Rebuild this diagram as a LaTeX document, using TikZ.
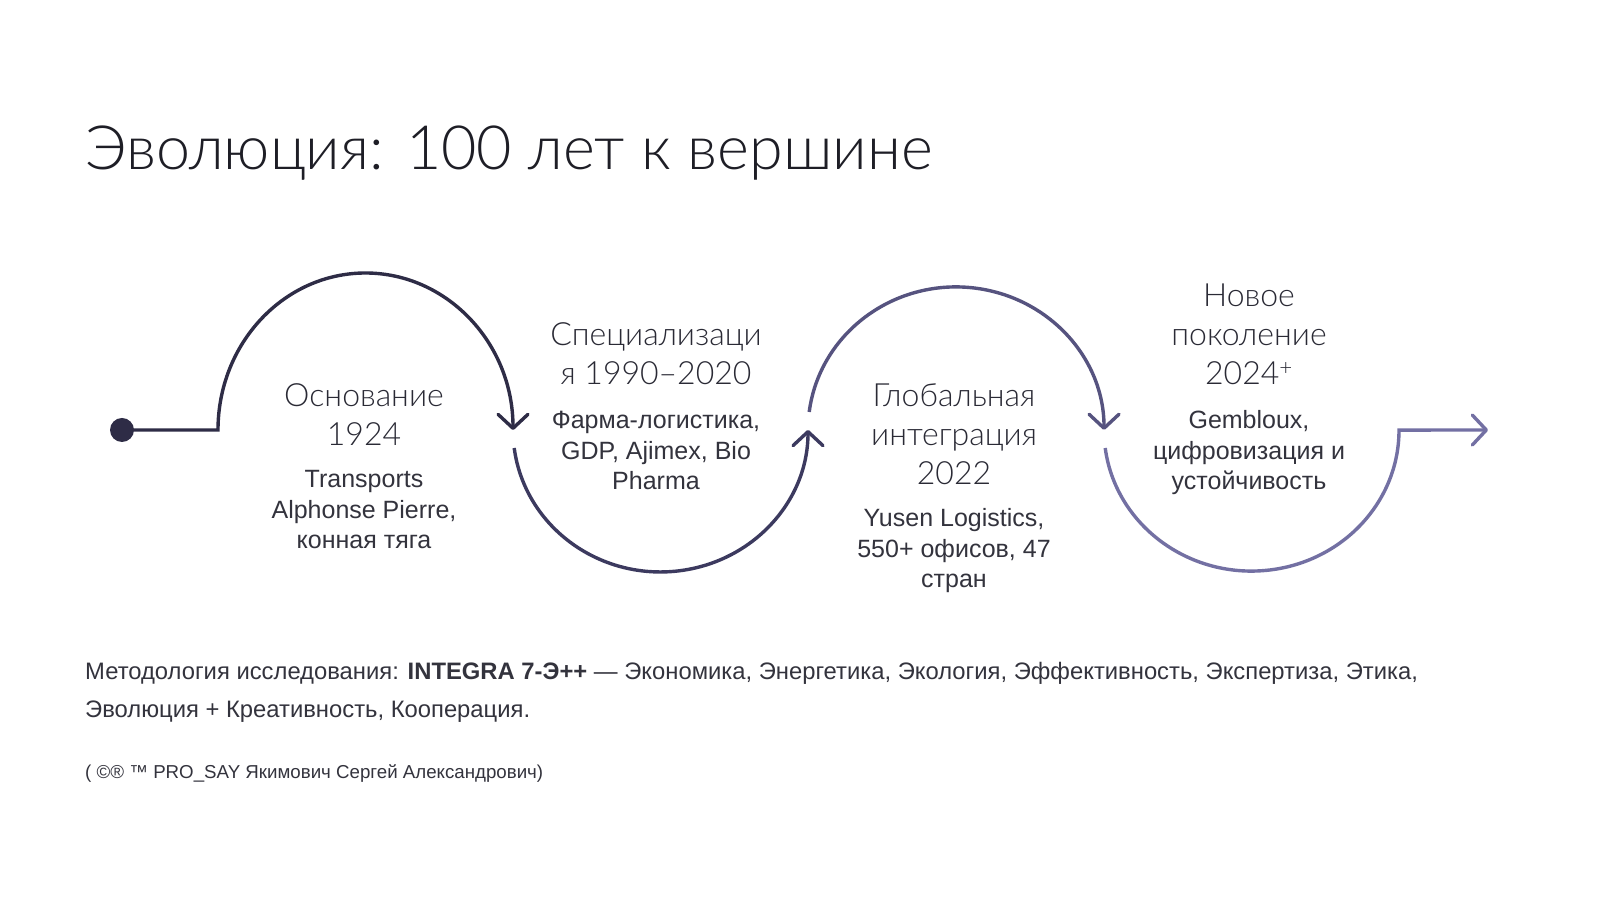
\documentclass[tikz,border=0pt]{standalone}
\usepackage{fontspec}
\setmainfont{Liberation Sans}
\newfontfamily\headfont{Lato Light}
\usetikzlibrary{arrows.meta}
\definecolor{cA}{HTML}{2E2C46}
\definecolor{cB}{HTML}{3C3A5F}
\definecolor{cC}{HTML}{56537F}
\definecolor{cD}{HTML}{7370A3}
\definecolor{titlec}{HTML}{1E1E26}
\definecolor{headc}{HTML}{2A2A35}
\definecolor{bodyc}{HTML}{33333D}
\tikzset{
  wave/.style={line width=3.4pt},
  arr/.style={-{Straight Barb[length=14pt,width=30pt,round]}},
  head/.style={font=\headfont\fontsize{32}{39}\selectfont, text=headc, anchor=base, inner sep=0pt},
  body/.style={font=\fontsize{25}{30}\selectfont, text=bodyc, anchor=base, inner sep=0pt},
  foot/.style={font=\fontsize{23.8}{30}\selectfont, text=bodyc, anchor=base west, inner sep=0pt},
}
\begin{document}
\begin{tikzpicture}[x=1pt,y=1pt]
\useasboundingbox (0,0) rectangle (1600,902);
\fill[white] (0,0) rectangle (1600,902);

% title
\node[anchor=base west, inner sep=0pt, text=titlec, font=\headfont\fontsize{61}{66}\selectfont] (title) at (85,732) {Эволюция: 100 лет к вершине};

% wave path
\node[circle, fill=cA, minimum size=24pt, inner sep=0pt] (dot) at (122,472) {};
\coordinate (k1) at (218,472);
\coordinate (s2) at (514.2,454);
\coordinate (s3) at (809.2,490);
\coordinate (s4) at (1105.2,454);
\coordinate (tip) at (1488,472);

\draw[wave, cA, arr] (dot.center) -- (k1) arc[start angle=180, end angle=0, x radius=147.5pt, y radius=157pt];
\draw[wave, cB, arr] (s2) arc[start angle=187.3, end angle=360, x radius=147.5pt, y radius=142pt];
\draw[wave, cC, arr] (s3) arc[start angle=172.8, end angle=0, x radius=148pt, y radius=143pt];
\draw[wave, cD, arr] (s4) arc[start angle=187.3, end angle=360, x radius=147.5pt, y radius=141pt] -- (tip);

% block 1
\node[head] (h1a) at (364,495) {Основание};
\node[head] (h1b) at (364,456) {1924};
\node[body] (b1a) at (364,414) {Transports};
\node[body] (b1b) at (364,383) {Alphonse Pierre,};
\node[body] (b1c) at (364,353) {конная тяга};

% block 2
\node[head] (h2a) at (656,556) {Специализаци};
\node[head] (h2b) at (656,517) {я 1990–2020};
\node[body] (b2a) at (656,473) {Фарма-логистика,};
\node[body] (b2b) at (656,442) {GDP, Ajimex, Bio};
\node[body] (b2c) at (656,412) {Pharma};

% block 3
\node[head] (h3a) at (954,495) {Глобальная};
\node[head] (h3b) at (954,456) {интеграция};
\node[head] (h3c) at (954,417) {2022};
\node[body] (b3a) at (954,375) {Yusen Logistics,};
\node[body] (b3b) at (954,344) {550+ офисов, 47};
\node[body] (b3c) at (954,314) {стран};

% block 4
\node[head] (h4a) at (1249,595) {Новое};
\node[head] (h4b) at (1249,556) {поколение};
\node[head] (h4c) at (1249,517) {2024\textsuperscript{+}};
\node[body] (b4a) at (1249,473) {Gembloux,};
\node[body] (b4b) at (1249,442) {цифровизация и};
\node[body] (b4c) at (1249,412) {устойчивость};

% footer
\node[foot] (f1) at (85,222) {Методология исследования: \textbf{INTEGRA 7-Э++} — Экономика, Энергетика, Экология, Эффективность, Экспертиза, Этика,};
\node[foot] (f2) at (85,184) {Эволюция + Креативность, Кооперация.};
\node[foot, font=\fontsize{18.7}{22}\selectfont] (f3) at (85,123) {( ©® ™ PRO\_SAY Якимович Сергей Александрович)};
\end{tikzpicture}
\end{document}
